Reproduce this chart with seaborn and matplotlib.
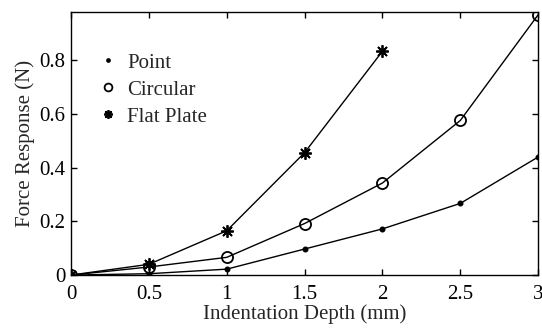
import matplotlib
matplotlib.use('Agg')
import matplotlib.pyplot as plt
from matplotlib.lines import Line2D
import pandas as pd
import seaborn as sns

# indentation depth (mm) and force response (N)
depth = [0, 0.5, 1, 1.5, 2, 2.5, 3]
point = [0, 0.005, 0.022, 0.097, 0.172, 0.267, 0.44]
circular = [0, 0.03, 0.066, 0.192, 0.343, 0.576, 0.97]
flat_depth = [0, 0.5, 1, 1.5, 2]
flat_plate = [0, 0.04, 0.165, 0.456, 0.834]

sns.set_style('ticks')
plt.rcParams['font.family'] = ['Liberation Serif', 'DejaVu Serif']

fig = plt.figure(figsize=(5.42, 3.33), dpi=100)
ax = fig.add_axes([0.131, 0.174, 0.862, 0.79])

series = [
    ('Point', depth, point, 'o', 3, 'k'),
    ('Circular', depth, circular, 'o', 8, 'none'),
    ('Flat Plate', flat_depth, flat_plate, (8, 2, 0), 9, 'k'),
]

handles = []
for name, xs, ys, mk, ms, fc in series:
    df = pd.DataFrame({'x': xs, 'y': ys})
    sns.lineplot(data=df, x='x', y='y', ax=ax, color='k', lw=1,
                 marker=mk, markersize=ms, markerfacecolor=fc,
                 markeredgecolor='k', markeredgewidth=1.3)
    handles.append(Line2D([], [], ls='none', marker=mk, markersize=ms * 0.7,
                          markerfacecolor=fc, markeredgecolor='k',
                          markeredgewidth=1.3, label=name))

ax.set_xlim(0, 3)
ax.set_ylim(0, 0.98)
ax.set_xticks([0, 0.5, 1, 1.5, 2, 2.5, 3])
ax.set_xticklabels(['0', '0.5', '1', '1.5', '2', '2.5', '3'])
ax.set_yticks([0, 0.2, 0.4, 0.6, 0.8])
ax.set_yticklabels(['0', '0.2', '0.4', '0.6', '0.8'])
ax.tick_params(direction='in', top=True, right=True, length=4, width=1,
               labelsize=15, colors='k')
ax.tick_params(axis='x', pad=7)
ax.tick_params(axis='y', pad=4)
for s in ax.spines.values():
    s.set_linewidth(1)
    s.set_color('k')

ax.set_xlabel('Indentation Depth (mm)', fontsize=15, labelpad=0)
ax.set_ylabel('Force Response (N)', fontsize=15, labelpad=3)

ax.legend(handles=handles, loc='upper left', frameon=False, fontsize=15,
          bbox_to_anchor=(0.04, 0.875), handlelength=1.0, handletextpad=0.4,
          labelspacing=0.35, borderaxespad=0)

fig.savefig('out.png', dpi=100)
